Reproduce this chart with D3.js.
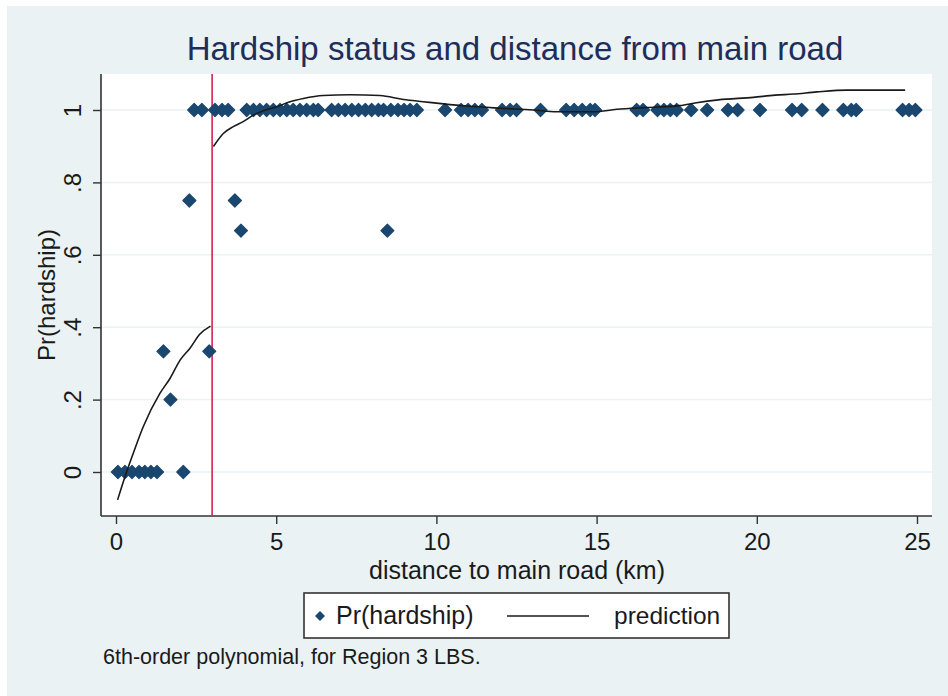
<!DOCTYPE html>
<html>
<head>
<meta charset="utf-8">
<script src="https://cdn.jsdelivr.net/npm/d3@7/dist/d3.min.js"></script>
<style>
  body { margin:0; background:#fff; }
  text { font-family: "Liberation Sans", Arial, sans-serif; }
</style>
</head>
<body>
<div id="chart"></div>
<script>
// data
var ptX = [0.06, 0.28, 0.5, 0.72, 0.9, 1.09, 1.28, 2.1, 1.7, 1.48, 2.91, 2.29, 3.71, 3.9, 8.47,
  2.44, 2.68, 3.09, 3.31, 3.5,
  4.08, 4.29, 4.49, 4.7, 4.91, 5.12, 5.33, 5.53, 5.74, 5.95, 6.16, 6.31,
  6.73, 6.94, 7.15, 7.36, 7.57, 7.78, 7.98, 8.19, 8.35,
  8.58, 8.8, 8.99, 9.18, 9.39,
  10.27, 10.77, 10.99, 11.2, 11.42,
  12.05, 12.3, 12.5, 13.25,
  14.05, 14.3, 14.55, 14.8, 14.95,
  16.25, 16.45, 16.9, 17.1, 17.3, 17.5, 17.95, 18.45,
  19.1, 19.4, 20.1, 21.1, 21.4, 22.05, 22.7, 22.95, 23.1, 24.55, 24.75, 24.95];
var ptY = [0, 0, 0, 0, 0, 0, 0, 0, 0.2, 1/3, 1/3, 0.75, 0.75, 2/3, 2/3,
  1, 1, 1, 1, 1,
  1, 1, 1, 1, 1, 1, 1, 1, 1, 1, 1, 1,
  1, 1, 1, 1, 1, 1, 1, 1, 1,
  1, 1, 1, 1, 1,
  1, 1, 1, 1, 1,
  1, 1, 1, 1,
  1, 1, 1, 1, 1,
  1, 1, 1, 1, 1, 1, 1, 1,
  1, 1, 1, 1, 1, 1, 1, 1, 1, 1, 1, 1];

// fitted polynomial, two pieces either side of the 3 km line
var predX1 = [0.05, 0.28, 0.54, 0.85, 1.37, 1.69, 2.0, 2.31, 2.62, 2.95];
var predY1 = [-0.077, -0.013, 0.052, 0.125, 0.217, 0.259, 0.309, 0.342, 0.381, 0.403];
var predX2 = [3.04, 3.35, 3.66, 3.97, 4.29, 4.6, 5.02, 5.43, 5.85, 6.47, 7.3, 8.24, 8.97, 9.59,
  10.22, 10.95, 11.99, 13.02, 13.75, 14.9, 15.63, 16.56, 17.6, 18.12, 18.8, 19.89, 20.57,
  21.14, 21.87, 22.81, 24.63];
var predY2 = [0.899, 0.935, 0.954, 0.968, 0.986, 0.998, 1.009, 1.023, 1.032, 1.040, 1.042, 1.040,
  1.029, 1.023, 1.017, 1.011, 1.005, 1.0, 0.995, 0.995, 1.002, 1.007, 1.012, 1.020, 1.028,
  1.035, 1.041, 1.044, 1.050, 1.055, 1.055];

var cutoff = 3;
var xTicks = [0, 5, 10, 15, 20, 25];
var yTicks = [0, 0.2, 0.4, 0.6, 0.8, 1];
var yTickLabels = ['0', '.2', '.4', '.6', '.8', '1'];

var W = 948, H = 696;
var box = {l: 101, r: 932, t: 74, b: 516};

var svg = d3.select('#chart').append('svg')
  .attr('width', W)
  .attr('height', H);

// graph region background
svg.append('rect')
  .attr('x', 7).attr('y', 6)
  .attr('width', W - 7).attr('height', H - 6)
  .attr('fill', '#eaf2f3');

svg.append('rect')
  .attr('x', box.l).attr('y', box.t)
  .attr('width', box.r - box.l).attr('height', box.b - box.t)
  .attr('fill', '#fff');

var x = d3.scaleLinear().domain([0, 25]).range([116, 917]);
var y = d3.scaleLinear().domain([0, 1]).range([472, 110]);

// gridlines
svg.selectAll('.grid')
  .data(yTicks)
  .enter().append('line')
    .attr('class', 'grid')
    .attr('x1', box.l).attr('x2', box.r)
    .attr('y1', function(d){ return y(d); })
    .attr('y2', function(d){ return y(d); })
    .attr('stroke', '#eaf2f3')
    .attr('stroke-width', 1.5);

// axes
var xAxis = d3.axisBottom(x).tickValues(xTicks).tickSize(8).tickPadding(9).tickFormat(d3.format('d'));
var gx = svg.append('g').attr('transform', 'translate(0,' + box.b + ')').call(xAxis);
gx.select('.domain').remove();
gx.append('line').attr('x1', box.l).attr('x2', box.r).attr('stroke', '#333').attr('stroke-width', 1.6);
gx.selectAll('.tick line').attr('stroke', '#333').attr('stroke-width', 1.4);
gx.selectAll('.tick text')
  .attr('font-size', 24)
  .attr('fill', '#1a1a1a')
  .attr('font-family', '"Liberation Sans", Arial, sans-serif');

var yAxis = d3.axisLeft(y).tickValues(yTicks).tickSize(8).tickFormat(function(d, i){ return yTickLabels[i]; });
var gy = svg.append('g').attr('transform', 'translate(' + box.l + ',0)').call(yAxis);
gy.select('.domain').remove();
gy.append('line').attr('y1', box.t).attr('y2', box.b).attr('stroke', '#333').attr('stroke-width', 1.6);
gy.selectAll('.tick line').attr('stroke', '#333').attr('stroke-width', 1.4);
gy.selectAll('.tick text')
  .attr('x', null).attr('dy', null)
  .attr('transform', 'translate(-20,0) rotate(-90)')
  .attr('text-anchor', 'middle')
  .attr('font-size', 24)
  .attr('fill', '#1a1a1a')
  .attr('font-family', '"Liberation Sans", Arial, sans-serif');

// cutoff line
svg.append('line')
  .attr('x1', x(cutoff)).attr('x2', x(cutoff))
  .attr('y1', box.t).attr('y2', box.b)
  .attr('stroke', '#d3234f')
  .attr('stroke-width', 1.6);

// points (Stata diamond)
function diamond(cx, cy, r){
  return 'M' + cx + ',' + (cy - r) + 'L' + (cx + r) + ',' + cy + 'L' + cx + ',' + (cy + r) + 'L' + (cx - r) + ',' + cy + 'Z';
}
var pts = ptX.map(function(v, i){ return {x: v, y: ptY[i]}; });
svg.selectAll('.pt')
  .data(pts)
  .enter().append('path')
    .attr('class', 'pt')
    .attr('d', function(d){ return diamond(x(d.x), y(d.y), 6.5); })
    .attr('fill', '#1a476f')
    .attr('stroke', '#1a476f')
    .attr('stroke-width', 1.2)
    .attr('stroke-linejoin', 'round');

// prediction lines
var line = d3.line()
  .x(function(d){ return x(d[0]); })
  .y(function(d){ return y(d[1]); })
  .curve(d3.curveMonotoneX);
[[predX1, predY1], [predX2, predY2]].forEach(function(p){
  svg.append('path')
    .datum(p[0].map(function(v, i){ return [v, p[1][i]]; }))
    .attr('d', line)
    .attr('fill', 'none')
    .attr('stroke', '#1a1a1a')
    .attr('stroke-width', 1.6);
});

// titles
svg.append('text')
  .attr('x', 515).attr('y', 60)
  .attr('text-anchor', 'middle')
  .attr('font-size', 33)
  .attr('fill', '#1e2d5a')
  .text('Hardship status and distance from main road');

svg.append('text')
  .attr('x', 517).attr('y', 579)
  .attr('text-anchor', 'middle')
  .attr('font-size', 25)
  .attr('fill', '#1a1a1a')
  .text('distance to main road (km)');

svg.append('text')
  .attr('transform', 'translate(55,295) rotate(-90)')
  .attr('text-anchor', 'middle')
  .attr('font-size', 24)
  .attr('fill', '#1a1a1a')
  .text('Pr(hardship)');

// legend
var lg = svg.append('g');
lg.append('rect')
  .attr('x', 304).attr('y', 593)
  .attr('width', 425).attr('height', 45)
  .attr('fill', '#fff')
  .attr('stroke', '#333')
  .attr('stroke-width', 1.6);
lg.append('path')
  .attr('d', diamond(320, 616, 5))
  .attr('fill', '#1a476f');
lg.append('text')
  .attr('x', 336).attr('y', 624)
  .attr('font-size', 25)
  .attr('fill', '#1a1a1a')
  .text('Pr(hardship)');
lg.append('line')
  .attr('x1', 507).attr('x2', 589)
  .attr('y1', 616).attr('y2', 616)
  .attr('stroke', '#1a1a1a')
  .attr('stroke-width', 1.6);
lg.append('text')
  .attr('x', 614).attr('y', 624)
  .attr('font-size', 24.5)
  .attr('fill', '#1a1a1a')
  .text('prediction');

// note
svg.append('text')
  .attr('x', 103).attr('y', 664)
  .attr('font-size', 21.5)
  .attr('fill', '#1a1a1a')
  .text('6th-order polynomial, for Region 3 LBS.');
</script>
</body>
</html>
